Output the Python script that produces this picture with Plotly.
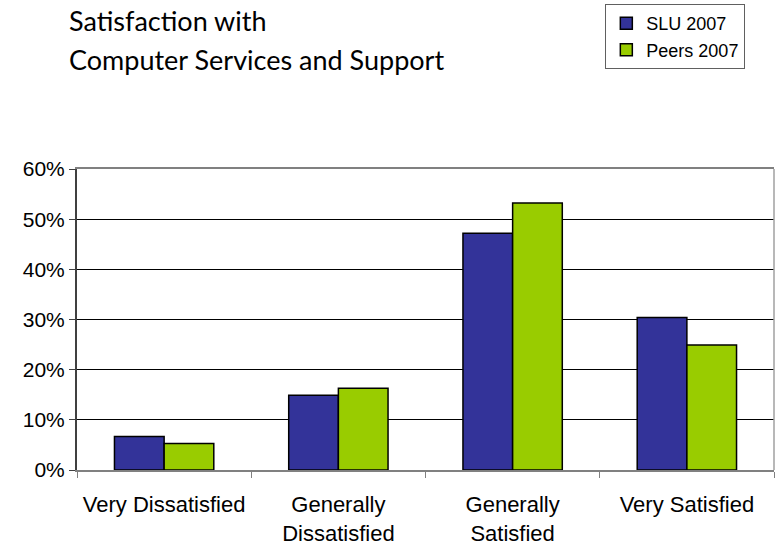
import plotly.graph_objects as go

categories = ["Very Dissatisfied", "Generally<br>Dissatisfied", "Generally<br>Satisfied", "Very Satisfied"]
slu_2007 = [6.7, 14.9, 47.2, 30.4]
peers_2007 = [5.3, 16.3, 53.2, 24.9]
y_ticks = [0, 10, 20, 30, 40, 50, 60]
y_tick_labels = ["0%", "10%", "20%", "30%", "40%", "50%", "60%"]

fig = go.Figure()
fig.add_trace(go.Bar(name="SLU 2007", x=categories, y=slu_2007,
                     marker=dict(color="#333399", line=dict(color="#000000", width=1.5))))
fig.add_trace(go.Bar(name="Peers 2007", x=categories, y=peers_2007,
                     marker=dict(color="#99CC00", line=dict(color="#000000", width=1.5))))

fig.update_layout(
    width=775, height=553,
    margin=dict(l=77, r=1, t=169, b=83),
    paper_bgcolor="white", plot_bgcolor="white",
    barmode="group", bargap=0.43, bargroupgap=0,
    font=dict(family="Liberation Sans, Arial", color="#000000"),
    showlegend=True,
    legend=dict(x=0.758, y=1.548, xanchor="left", yanchor="top",
                bordercolor="#606060", borderwidth=1, bgcolor="white",
                font=dict(size=18, family="Liberation Sans, Arial"),
                tracegroupgap=0),
    xaxis=dict(showline=True, linecolor="#808080", linewidth=2, mirror=True,
               ticks="outside", tickson="boundaries", ticklen=6, tickcolor="#808080",
               tickfont=dict(size=22), ticklabelstandoff=14, showgrid=False),
    yaxis=dict(range=[0, 60], tickvals=y_ticks, ticktext=y_tick_labels,
               showline=True, linecolor="#404040", linewidth=2,
               ticks="outside", ticklen=6, tickcolor="#404040",
               showgrid=True, gridcolor="#000000", gridwidth=1,
               tickfont=dict(size=21), zeroline=False),
)

fig.add_shape(type="line", xref="paper", yref="paper", x0=1, x1=1, y0=0, y1=1,
              line=dict(color="#A0A0A0", width=1.5))

fig.add_annotation(text="Satisfaction with", xref="paper", yref="paper",
                   x=-0.0143, y=1.495, xanchor="left", yanchor="middle", showarrow=False,
                   font=dict(family="Lato, Open Sans", size=27, color="#000000"))
fig.add_annotation(text="Computer Services and Support", xref="paper", yref="paper",
                   x=-0.0143, y=1.363, xanchor="left", yanchor="middle", showarrow=False,
                   font=dict(family="Lato, Open Sans", size=27, color="#000000"))

fig.write_html("out.html")
